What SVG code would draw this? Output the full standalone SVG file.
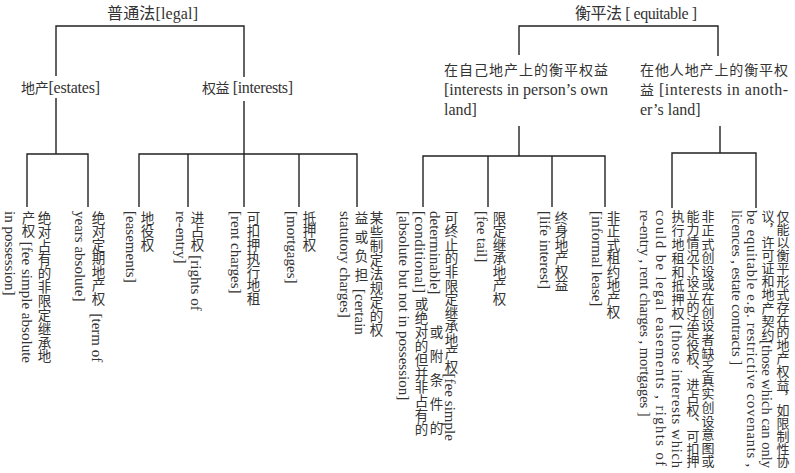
<svg xmlns="http://www.w3.org/2000/svg" width="795" height="473" viewBox="0 0 795 473">
<style>
text{font-family:"Liberation Serif","Noto Sans CJK SC",serif;fill:#333;}
.hd{font-size:16px;}
.sub{font-size:16px;}
.v{font-size:15px;writing-mode:vertical-rl;}
.vs{font-size:14.5px;writing-mode:vertical-rl;}
.c{font-size:13.5px;}
.k{font-size:14px;}
.c2{font-size:13px;}
.ln{fill:none;stroke:#222;stroke-width:1.4;}
</style>
<rect width="795" height="473" fill="#fff"/>
<g id="connectors">
<path class="ln" d="M56,76 V26 H244 V77"/>
<path class="ln" d="M56,98 V154 M27,207 V154 H88 V207"/>
<path class="ln" d="M244,101 V207 M139,207 V154 H357 V207 M188,154 V207 M299,154 V207"/>
<path class="ln" d="M519,55 V26 H718 V56"/>
<path class="ln" d="M519,126 V156 M423,207 V156 H605 V207 M488,156 V207 M552,156 V207"/>
<path class="ln" d="M720,126 V153 M672,208 V153 H756 V208"/>
</g>
<g id="legal"><text class="hd" x="107" y="19" textLength="91" lengthAdjust="spacing">普通法[legal]</text></g>
<g id="equitable"><text class="hd" x="575" y="19" textLength="122" lengthAdjust="spacing">衡平法 [ equitable ]</text></g>
<g id="estates"><text class="sub" x="21" y="93" textLength="79" lengthAdjust="spacing"><tspan class="k">地产</tspan>[estates]</text></g>
<g id="interests"><text class="sub" x="202" y="93" textLength="91" lengthAdjust="spacing"><tspan class="k">权益</tspan> [interests]</text></g>
<g id="own-land">
<text class="sub k" x="444" y="75" textLength="164" lengthAdjust="spacing">在自己地产上的衡平权益</text>
<text class="sub" x="444" y="95" textLength="164" lengthAdjust="spacing">[interests in person’s own</text>
<text class="sub" x="444" y="115">land]</text>
</g>
<g id="anothers-land">
<text class="sub k" x="640" y="75" textLength="148" lengthAdjust="spacing">在他人地产上的衡平权</text>
<text class="sub" x="640" y="95" textLength="148" lengthAdjust="spacing"><tspan class="k">益</tspan> [interests in anoth-</text>
<text class="sub" x="640" y="115">er’s land]</text>
</g>
<g id="fee-simple-absolute">
<text class="v c" x="43" y="211" textLength="152" lengthAdjust="spacing">绝对占有的非限定继承地</text>
<text class="v" x="27" y="211" textLength="152" lengthAdjust="spacing"><tspan class="c">产权</tspan> [fee simple absolute</text>
<text class="v" x="10" y="211">in possession]</text>
</g>
<g id="term-of-years">
<text class="v" x="97" y="211"><tspan class="c">绝对定期地产权</tspan><tspan y="313">[term of</tspan></text>
<text class="v" x="80" y="211">years absolute]</text>
</g>
<g id="easements">
<text class="v c" x="146" y="211">地役权</text>
<text class="v" x="131" y="211">[easements]</text>
</g>
<g id="rights-of-reentry">
<text class="v" x="196" y="211"><tspan class="c">进占权</tspan> [rights of</text>
<text class="v" x="181" y="211">re-entry]</text>
</g>
<g id="rent-charges">
<text class="v c" x="252" y="211">可扣押执行地租</text>
<text class="v" x="236" y="211">[rent charges]</text>
</g>
<g id="mortgages">
<text class="v c" x="308" y="211">抵押权</text>
<text class="v" x="292" y="211">[mortgages]</text>
</g>
<g id="statutory-charges">
<text class="v c" x="375" y="211" textLength="126" lengthAdjust="spacing">某些制定法规定的权</text>
<text class="v" x="360" y="211"><tspan class="c" y="211 230 249 268">益或负担</tspan><tspan y="289">[certain</tspan></text>
<text class="v" x="345" y="211">statutory charges]</text>
</g>
<g id="determinable">
<text class="v" x="450" y="211" textLength="230" lengthAdjust="spacing"><tspan class="c">可终止的非限定继承地产权</tspan>[fee simple</text>
<text class="v" x="435" y="211">determinable]<tspan class="c" y="325 349 373 397 421">或附条件的</tspan></text>
<text class="v" x="420" y="211" textLength="225" lengthAdjust="spacing">[conditional] <tspan class="c">或绝对的但并非占有的</tspan></text>
<text class="v" x="404" y="211">[absolute but not in possession]</text>
</g>
<g id="fee-tail">
<text class="v c" x="498" y="211">限定继承地产权</text>
<text class="v" x="482" y="211">[fee tail]</text>
</g>
<g id="life-interest">
<text class="v c" x="560" y="211">终身地产权益</text>
<text class="v" x="545" y="211">[life interest]</text>
</g>
<g id="informal-lease">
<text class="v c" x="612" y="211">非正式租约地产权</text>
<text class="v" x="597" y="211">[informal lease]</text>
</g>
<g id="informal-legal-interests">
<text class="vs c2" x="707" y="210" textLength="258" lengthAdjust="spacing">非正式创设或在创设者缺乏真实创设意图或</text>
<text class="vs c2" x="692" y="210" textLength="258" lengthAdjust="spacing">能力情况下设立的法定役权、进占权、可扣押</text>
<text class="vs" x="677" y="210" textLength="258" lengthAdjust="spacing"><tspan class="c2">执行地租和抵押权</tspan> [those interests which</text>
<text class="vs" x="661" y="210" textLength="256" lengthAdjust="spacing">could be legal easements , rights of</text>
<text class="vs" x="645" y="210">re-entry , rent charges , mortgages ]</text>
</g>
<g id="equitable-only">
<text class="vs c2" x="782" y="210" textLength="258" lengthAdjust="spacing">仅能以衡平形式存在的地产权益，如限制性协</text>
<text class="vs" x="767" y="210" textLength="258" lengthAdjust="spacing"><tspan class="c2">议，许可证和地产契约</tspan>[those which can only</text>
<text class="vs" x="752" y="210" textLength="257" lengthAdjust="spacing">be equitable e.g. restrictive covenants ,</text>
<text class="vs" x="737" y="210">licences , estate contracts ]</text>
</g>
</svg>
